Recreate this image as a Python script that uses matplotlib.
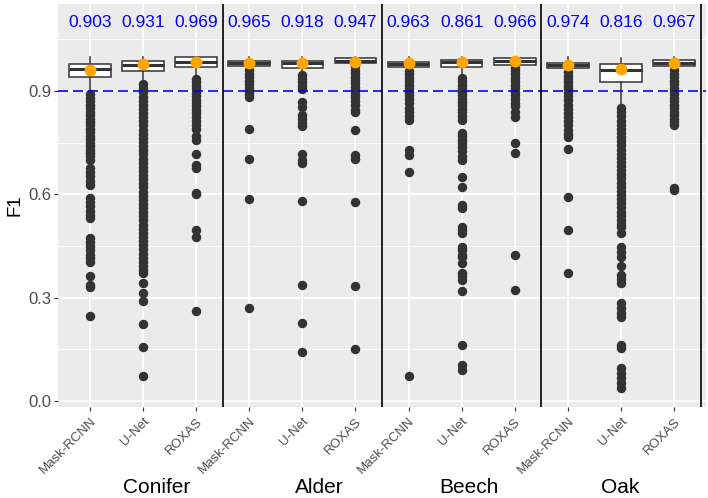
import numpy as np
import matplotlib
matplotlib.use('Agg')
import matplotlib.pyplot as plt
import matplotlib.transforms as mtransforms

plt.rcParams['font.family'] = ['Liberation Sans', 'DejaVu Sans']

groups = ['Conifer', 'Alder', 'Beech', 'Oak']
methods = ['Mask-RCNN', 'U-Net', 'ROXAS']
group_label_x = [2.26, 5.31, 8.14, 10.99]

annot = [0.903, 0.931, 0.969, 0.965, 0.918, 0.947,
         0.963, 0.861, 0.966, 0.974, 0.816, 0.967]

# box stats
q1 = [0.940, 0.959, 0.969, 0.973, 0.967, 0.980, 0.971, 0.971, 0.976, 0.966, 0.925, 0.973]
med = [0.964, 0.975, 0.984, 0.981, 0.982, 0.988, 0.979, 0.983, 0.986, 0.975, 0.960, 0.982]
q3 = [0.977, 0.988, 0.998, 0.987, 0.988, 0.995, 0.985, 0.990, 0.995, 0.982, 0.978, 0.990]
whislo = [0.898, 0.927, 0.938, 0.965, 0.955, 0.975, 0.962, 0.950, 0.972, 0.958, 0.856, 0.965]
whishi = [1.0, 1.0, 1.0, 1.0, 1.0, 1.0, 1.0, 1.0, 1.0, 1.0, 0.995, 1.0]
means = [0.961, 0.978, 0.984, 0.980, 0.980, 0.985, 0.980, 0.985, 0.988, 0.975, 0.963, 0.982]

fliers = [
    # Conifer Mask-RCNN
    [0.890, 0.880, 0.870, 0.860, 0.850, 0.840, 0.830, 0.820, 0.810, 0.800, 0.790,
     0.780, 0.770, 0.760, 0.750, 0.740, 0.730, 0.720, 0.710, 0.700, 0.676, 0.665,
     0.652, 0.640, 0.628, 0.590, 0.578, 0.566, 0.553, 0.541, 0.531, 0.473, 0.462,
     0.450, 0.438, 0.425, 0.414, 0.403, 0.363, 0.337, 0.331, 0.248],
    # Conifer U-Net
    [0.920, 0.908, 0.896, 0.884, 0.872, 0.860, 0.848, 0.836, 0.824, 0.812, 0.800,
     0.788, 0.776, 0.764, 0.752, 0.740, 0.728, 0.716, 0.704, 0.692, 0.680, 0.668,
     0.656, 0.644, 0.632, 0.620, 0.608, 0.596, 0.584, 0.572, 0.560, 0.548, 0.536,
     0.524, 0.512, 0.500, 0.488, 0.476, 0.464, 0.452, 0.440, 0.428, 0.416, 0.404,
     0.392, 0.380, 0.372, 0.343, 0.313, 0.290, 0.223, 0.157, 0.073],
    # Conifer ROXAS
    [0.935, 0.925, 0.915, 0.905, 0.895, 0.885, 0.875, 0.865, 0.855, 0.845, 0.835,
     0.825, 0.812, 0.800, 0.790, 0.770, 0.758, 0.717, 0.685, 0.676, 0.604, 0.600,
     0.496, 0.476, 0.262],
    # Alder
    [0.960, 0.950, 0.940, 0.930, 0.920, 0.910, 0.900, 0.890, 0.883, 0.790, 0.703,
     0.586, 0.270],
    [0.946, 0.935, 0.925, 0.915, 0.905, 0.868, 0.853, 0.830, 0.818, 0.808, 0.798,
     0.717, 0.700, 0.690, 0.580, 0.337, 0.226, 0.142],
    [0.972, 0.962, 0.952, 0.942, 0.932, 0.922, 0.912, 0.902, 0.892, 0.882, 0.870,
     0.858, 0.845, 0.839, 0.787, 0.714, 0.703, 0.578, 0.334, 0.151],
    # Beech
    [0.958, 0.948, 0.938, 0.928, 0.918, 0.908, 0.898, 0.888, 0.878, 0.866, 0.852,
     0.840, 0.828, 0.816, 0.729, 0.714, 0.665, 0.072],
    [0.938, 0.928, 0.918, 0.908, 0.898, 0.888, 0.878, 0.868, 0.858, 0.848, 0.838,
     0.826, 0.816, 0.778, 0.768, 0.758, 0.748, 0.738, 0.725, 0.712, 0.700, 0.650,
     0.621, 0.569, 0.560, 0.505, 0.495, 0.488, 0.447, 0.438, 0.425, 0.418, 0.400,
     0.371, 0.362, 0.351, 0.319, 0.162, 0.104, 0.090],
    [0.968, 0.958, 0.948, 0.938, 0.928, 0.918, 0.908, 0.898, 0.888, 0.878, 0.866,
     0.855, 0.840, 0.825, 0.749, 0.720, 0.424, 0.322],
    # Oak
    [0.955, 0.945, 0.935, 0.925, 0.915, 0.905, 0.895, 0.885, 0.874, 0.860, 0.848,
     0.836, 0.824, 0.812, 0.800, 0.788, 0.776, 0.766, 0.732, 0.592, 0.496, 0.372],
    [0.850, 0.838, 0.826, 0.814, 0.802, 0.790, 0.778, 0.766, 0.754, 0.742, 0.730,
     0.718, 0.706, 0.694, 0.682, 0.670, 0.658, 0.646, 0.634, 0.622, 0.610, 0.598,
     0.586, 0.574, 0.562, 0.550, 0.538, 0.526, 0.514, 0.505, 0.488, 0.447, 0.432,
     0.418, 0.392, 0.366, 0.355, 0.343, 0.284, 0.270, 0.256, 0.244, 0.162, 0.154,
     0.096, 0.082, 0.068, 0.052, 0.038],
    [0.960, 0.950, 0.940, 0.930, 0.920, 0.910, 0.900, 0.890, 0.880, 0.870, 0.860,
     0.850, 0.840, 0.830, 0.820, 0.810, 0.801, 0.618, 0.612],
]

n = len(annot)
positions = np.arange(1, n + 1)
stats = []
for i in range(n):
    stats.append(dict(q1=q1[i], med=med[i], q3=q3[i], whislo=whislo[i],
                      whishi=whishi[i], fliers=fliers[i], mean=means[i]))

fig = plt.figure(figsize=(7.08, 4.98), dpi=100)
ax = fig.add_axes([58 / 708, 1 - 407 / 498, 648 / 708, 403 / 498])
ax.set_facecolor('#EBEBEB')

# grid like ggplot
for y in [0.15, 0.45, 0.75, 1.05]:
    ax.axhline(y, color='white', lw=0.6, zorder=0)
for y in [0.0, 0.3, 0.6, 0.9]:
    ax.axhline(y, color='white', lw=1.3, zorder=0)
for x in positions:
    ax.axvline(x, color='white', lw=1.3, zorder=0)

dark = '#333333'
ax.bxp(stats, positions=positions, widths=0.78, patch_artist=True,
       showcaps=False, showmeans=True, showfliers=True,
       boxprops=dict(facecolor='white', edgecolor=dark, lw=1.1),
       medianprops=dict(color=dark, lw=2.2),
       whiskerprops=dict(color=dark, lw=1.1),
       flierprops=dict(marker='o', markerfacecolor=dark, markeredgecolor=dark,
                       markersize=5.8, linestyle='none'),
       meanprops=dict(marker='o', markerfacecolor='orange', markeredgecolor='orange',
                      markersize=7.5),
       zorder=2)

ax.axhline(0.9, color='blue', lw=1.2, linestyle=(0, (6, 3)), zorder=3)

for x in [3.5, 6.5, 9.5, 12.5]:
    ax.axvline(x, color='black', lw=1.2, zorder=3)

for i in range(n):
    ax.text(positions[i], 1.098, '%.3f' % annot[i], color='blue', fontsize=12.5,
            ha='center', va='center')

ax.set_xlim(0.4, 12.6)
ax.set_ylim(-0.0175, 1.1526)
ax.set_yticks([0.0, 0.3, 0.6, 0.9])
ax.set_yticklabels(['0.0', '0.3', '0.6', '0.9'])
ax.set_xticks(positions)
ax.set_xticklabels(methods * 4, rotation=45, ha='right', va='top',
                   rotation_mode='anchor', fontsize=9.5, color='#4D4D4D')
ax.tick_params(axis='y', labelsize=12, labelcolor='#4D4D4D', color=dark,
               length=3, width=0.8, pad=2)
ax.tick_params(axis='x', color=dark, length=3, width=0.8, pad=3)
for s in ax.spines.values():
    s.set_visible(False)

ax.set_ylabel('F1', fontsize=13.5, color='black', labelpad=3)

trans = mtransforms.blended_transform_factory(ax.transData, fig.transFigure)
for gx, g in zip(group_label_x, groups):
    ax.text(gx, 1 - 487 / 498, g, transform=trans, fontsize=15,
            ha='center', va='center', color='black')

fig.savefig('out.png', dpi=100)
